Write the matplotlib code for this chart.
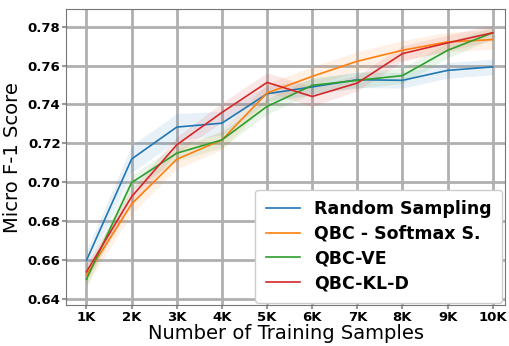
import numpy as np
import matplotlib
matplotlib.use("Agg")
import matplotlib.pyplot as plt

samples = [1, 2, 3, 4, 5, 6, 7, 8, 9, 10]
tick_labels = ["1K", "2K", "3K", "4K", "5K", "6K", "7K", "8K", "9K", "10K"]

random_sampling = [0.660, 0.7120, 0.7284, 0.7304, 0.7455, 0.7490, 0.7527, 0.7524, 0.7575, 0.7593]
random_std = [0.005, 0.007, 0.007, 0.006, 0.004, 0.004, 0.004, 0.004, 0.004, 0.004]

qbc_softmax = [0.6524, 0.6889, 0.7119, 0.7218, 0.7459, 0.7544, 0.7622, 0.7678, 0.7721, 0.7733]
softmax_std = [0.005, 0.005, 0.005, 0.005, 0.005, 0.005, 0.005, 0.005, 0.005, 0.005]

qbc_ve = [0.6503, 0.6999, 0.7150, 0.7218, 0.7390, 0.7498, 0.7524, 0.7548, 0.7678, 0.7768]
ve_std = [0.004, 0.004, 0.004, 0.004, 0.004, 0.004, 0.004, 0.004, 0.004, 0.003]

qbc_kld = [0.6541, 0.6927, 0.7193, 0.7359, 0.7513, 0.7441, 0.7510, 0.7661, 0.7716, 0.7768]
kld_std = [0.004, 0.004, 0.004, 0.005, 0.005, 0.005, 0.004, 0.004, 0.004, 0.004]

series = [
    ("Random Sampling", random_sampling, random_std, "tab:blue"),
    ("QBC - Softmax S.", qbc_softmax, softmax_std, "tab:orange"),
    ("QBC-VE", qbc_ve, ve_std, "tab:green"),
    ("QBC-KL-D", qbc_kld, kld_std, "tab:red"),
]

fig, ax = plt.subplots(figsize=(5.09, 3.46), dpi=100)

x = np.array(samples)
for name, mean, std, color in series:
    mean = np.array(mean)
    std = np.array(std)
    ax.plot(x, mean, color=color, linewidth=1.2, label=name)
    ax.fill_between(x, mean - std, mean + std, color=color, alpha=0.1, linewidth=0)

ax.set_ylim(0.637, 0.789)
ax.set_xlim(0.55, 10.27)
ax.set_xticks(samples)
ax.set_xticklabels(tick_labels)
ax.set_yticks([0.64, 0.66, 0.68, 0.70, 0.72, 0.74, 0.76, 0.78])
ax.set_yticklabels(["0.64", "0.66", "0.68", "0.70", "0.72", "0.74", "0.76", "0.78"])
for lbl in ax.get_xticklabels() + ax.get_yticklabels():
    lbl.set_fontweight("bold")
    lbl.set_fontsize(9.5)
ax.tick_params(colors="#999999", labelcolor="black", width=1.5, length=3, pad=1)

ax.grid(True, color="#b0b0b0", linewidth=2)
ax.set_axisbelow(True)
for s in ax.spines.values():
    s.set_color("#777777")

ax.set_xlabel("Number of Training Samples", fontsize=14, labelpad=0)
ax.set_ylabel("Micro F-1 Score", fontsize=14, labelpad=4)

leg = ax.legend(loc="lower right", prop={"weight": "bold", "size": 12.5}, framealpha=1,
                handlelength=2.0, labelspacing=0.38, borderpad=0.6, borderaxespad=0.15)

plt.subplots_adjust(left=0.13, right=0.992, top=0.974, bottom=0.118)
plt.savefig("out.png", dpi=100)
